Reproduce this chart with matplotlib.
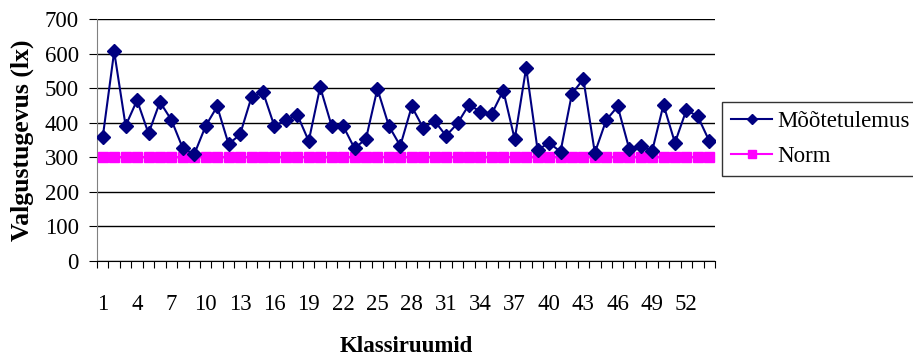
import matplotlib
matplotlib.use("Agg")
import matplotlib.pyplot as plt
import numpy as np

rooms = list(range(1, 55))
measured = [358, 606, 391, 465, 369, 460, 408, 326, 309, 391,
            447, 338, 366, 474, 489, 390, 408, 423, 347, 503,
            391, 391, 326, 353, 498, 391, 333, 447, 385, 405,
            362, 398, 452, 432, 426, 493, 352, 559, 321, 342,
            316, 484, 526, 313, 408, 447, 325, 334, 317, 452,
            342, 437, 418, 347]
norm = [300] * len(rooms)
xtick_labels = list(range(1, 55, 3))
yticks = list(range(0, 701, 100))

plt.rcParams['font.family'] = ['Liberation Serif', 'DejaVu Serif']

fig = plt.figure(figsize=(9.13, 3.56), dpi=100)
ax = fig.add_axes([97/913, 1-261/356, (715-97)/913, (261-19)/356])

ax.plot(rooms, measured, color='#000080', lw=1.5, marker='D', markersize=7,
        markerfacecolor='#000080', markeredgecolor='#000080', label='Mõõtetulemus', zorder=4)
ax.plot(rooms, norm, color='#FF00FF', lw=1.5, marker='s', markersize=7,
        markerfacecolor='#FF00FF', markeredgecolor='#FF00FF', label='Norm', zorder=3)

ax.set_xlim(0.5, len(rooms) + 0.5)
ax.set_ylim(0, 700)
ax.set_yticks(yticks)
ax.yaxis.grid(True, color='black', lw=1)
ax.set_axisbelow(True)

ax.set_xticks(xtick_labels)
ax.set_xticklabels([str(v) for v in xtick_labels])
ax.set_xticks(np.arange(0.5, len(rooms) + 1, 1), minor=True)
ax.tick_params(axis='x', which='major', length=0, pad=24, labelsize=16.5)
ax.tick_params(axis='x', which='minor', length=5, width=0.8, direction='out')
ax.tick_params(axis='y', which='major', length=6, width=0.8, direction='out', pad=7, labelsize=16.5)

for s in ['top', 'right']:
    ax.spines[s].set_visible(False)
ax.spines['left'].set_color('#808080')
ax.spines['bottom'].set_color('black')

ax.set_ylabel('Valgustugevus (lx)', fontsize=18.5, fontweight='bold', labelpad=8)
ax.set_xlabel('Klassiruumid', fontsize=16.5, fontweight='bold', labelpad=15)

leg = ax.legend(loc='center left', bbox_to_anchor=(722/913, 1-139/356),
                bbox_transform=fig.transFigure, fontsize=16.5, frameon=True,
                fancybox=False, edgecolor='black', handlelength=1.8,
                handletextpad=0.2, borderpad=0.4, labelspacing=0.6,
                borderaxespad=0, markerscale=0.75)
leg.get_frame().set_linewidth(1.0)

fig.savefig('out.png', dpi=100)
